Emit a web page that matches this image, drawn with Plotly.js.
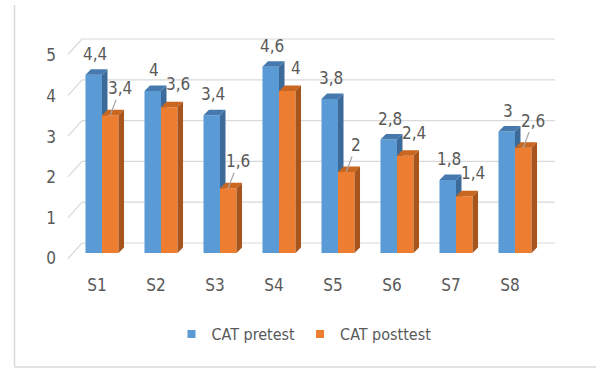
<!DOCTYPE html>
<html><head><meta charset="utf-8">
<script src="https://cdn.plot.ly/plotly-3.0.1.min.js"></script>
<style>html,body{margin:0;padding:0;background:#fff}</style>
</head><body><div id="chart" style="width:596px;height:370px"></div>
<script>
const categories = ['S1','S2','S3','S4','S5','S6','S7','S8'];
const pretest = [4.4, 4, 3.4, 4.6, 3.8, 2.8, 1.8, 3];
const posttest = [3.4, 3.6, 1.6, 4, 2, 2.4, 1.4, 2.6];
const yTicks = [0, 1, 2, 3, 4, 5];
const seriesNames = ['CAT pretest', 'CAT posttest'];
const posttestLeader = [true, false, true, false, true, false, false, true];

// geometry (pixels)
const W = 596, H = 370, PL = 68, PR = 555, PT = 20, PB = 270;
const plotW = PR - PL, plotH = PB - PT;
const catPx = 59, firstCatPx = 102;
const barW = 0.28, depthPx = 5.5, barScale = 40.5;
function yRange(zeroPx, pxPerUnit) { return [-(PB - zeroPx) / pxPerUnit, (zeroPx - PT) / pxPerUnit]; }
const barRange = yRange(253, barScale);
const backRange = yRange(243, 40.8);
const frontRange = yRange(258.5, 40.6);
const xr0 = -(firstCatPx - PL) / catPx;
const xRange = [xr0, xr0 + plotW / catPx];
const pxX = p => (p - PL) / plotW;
const pxY = p => (PB - p) / plotH;
const dxu = depthPx / catPx, dyu = depthPx / barScale;
const xIdx = categories.map((_, i) => i);
const fmt = v => String(v).replace('.', ',');

const FONT = '"Liberation Sans Narrow", "DejaVu Sans Condensed", "Arial Narrow", sans-serif';
const TXT = '#595959', GRID = '#d9d9d9';
const BLUE = '#5b9bd5', BLUE_SIDE = '#3d6b99', BLUE_TOP = '#4679ae';
const ORANGE = '#ed7d31', ORANGE_SIDE = '#a8551d', ORANGE_TOP = '#c9661f';

function faces(values, off) {
  const side = {x: [], y: []}, top = {x: [], y: []};
  values.forEach((v, i) => {
    const l = i + off, r = l + barW;
    side.x.push(r, r + dxu, r + dxu, r, null);
    side.y.push(0, dyu, v + dyu, v, null);
    top.x.push(l, l + dxu, r + dxu, r, null);
    top.y.push(v, v + dyu, v + dyu, v, null);
  });
  return {side, top};
}
function faceTrace(f, color, xa, ya) {
  return {type: 'scatter', x: f.x, y: f.y, mode: 'none', fill: 'toself', fillcolor: color,
    connectgaps: false, xaxis: xa, yaxis: ya, showlegend: false, hoverinfo: 'skip'};
}
const fb = faces(pretest, -barW), fo = faces(posttest, 0);

const traces = [
  {type: 'bar', x: xIdx, y: pretest, width: barW, offset: -barW, marker: {color: BLUE},
   xaxis: 'x', yaxis: 'y', showlegend: false, hoverinfo: 'skip', name: seriesNames[0]},
  faceTrace(fb.side, BLUE_SIDE, 'x', 'y'),
  faceTrace(fb.top, BLUE_TOP, 'x', 'y'),
  {type: 'bar', x: xIdx, y: posttest, width: barW, offset: 0, marker: {color: ORANGE},
   xaxis: 'x2', yaxis: 'y4', showlegend: false, hoverinfo: 'skip', name: seriesNames[1]},
  faceTrace(fo.side, ORANGE_SIDE, 'x2', 'y4'),
  faceTrace(fo.top, ORANGE_TOP, 'x2', 'y4'),
  {type: 'scatter', x: [null], y: [null], mode: 'markers', xaxis: 'x', yaxis: 'y3',
   marker: {symbol: 'square', size: 8, color: BLUE}, name: seriesNames[0]},
  {type: 'scatter', x: [null], y: [null], mode: 'markers', xaxis: 'x', yaxis: 'y3',
   marker: {symbol: 'square', size: 8, color: ORANGE}, name: seriesNames[1]},
  {type: 'scatter', x: [null], y: [null], mode: 'markers', xaxis: 'x', yaxis: 'y2', showlegend: false}
];

const shapes = [];
yTicks.forEach(v => {
  shapes.push({type: 'line', layer: 'below', xref: 'paper', yref: 'y2', x0: pxX(82), x1: pxX(PR), y0: v, y1: v,
    line: {color: GRID, width: 1.2}});
  shapes.push({type: 'line', layer: 'below', xref: 'paper', yref: 'y2', x0: pxX(82), x1: pxX(PL), y0: v, y1: v - 15.5 / 40.8,
    line: {color: GRID, width: 1.2}});
});
// chart-area border
shapes.push({type: 'line', xref: 'paper', yref: 'paper', x0: pxX(14.5), x1: pxX(14.5), y0: pxY(5), y1: pxY(367),
  line: {color: GRID, width: 1.5}});
shapes.push({type: 'line', xref: 'paper', yref: 'paper', x0: pxX(14.5), x1: pxX(W), y0: pxY(367), y1: pxY(367),
  line: {color: GRID, width: 1.5}});

const lblFont = {family: FONT, size: 17, color: TXT};
const annotations = [];
pretest.forEach((v, i) => {
  annotations.push({x: i - barW / 2, y: v, xref: 'x', yref: 'y', text: fmt(v), showarrow: false,
    xshift: 1, yshift: 21, font: lblFont});
});
posttest.forEach((v, i) => {
  if (posttestLeader[i]) {
    annotations.push({x: i + barW / 2, y: v, xref: 'x2', yref: 'y4', text: fmt(v), showarrow: true,
      arrowhead: 0, arrowwidth: 1.2, arrowcolor: '#a6a6a6', ax: 10, ay: -27, standoff: 0, font: lblFont});
  } else {
    annotations.push({x: i + barW / 2, y: v, xref: 'x2', yref: 'y4', text: fmt(v), showarrow: false,
      xshift: 9, yshift: 23, font: lblFont});
  }
});

const layout = {
  width: W, height: H,
  margin: {l: PL, r: W - PR, t: PT, b: H - PB},
  paper_bgcolor: '#ffffff', plot_bgcolor: 'rgba(0,0,0,0)',
  font: {family: FONT, color: TXT},
  showlegend: true,
  legend: {orientation: 'h', x: pxX(304), xanchor: 'center', y: pxY(334), yanchor: 'middle',
    font: {family: FONT, size: 16, color: TXT}, bgcolor: 'rgba(0,0,0,0)', itemwidth: 30},
  xaxis: {range: xRange, tickmode: 'array', tickvals: xIdx, ticktext: categories, showgrid: false,
    zeroline: false, showline: false, ticks: '', ticklabelshift: -5, ticklabelstandoff: 3,
    tickfont: {family: FONT, size: 17, color: TXT}, fixedrange: true},
  xaxis2: {overlaying: 'x', range: xRange, visible: false},
  yaxis: {range: barRange, visible: false, showgrid: false, zeroline: false},
  yaxis2: {overlaying: 'y', range: backRange, visible: false, showgrid: false, zeroline: false},
  yaxis3: {overlaying: 'y', range: frontRange, tickmode: 'array', tickvals: yTicks, showgrid: false,
    zeroline: false, showline: false, ticks: '', anchor: 'free', position: 0, side: 'left',
    ticklabelstandoff: 12, tickfont: {family: FONT, size: 17, color: TXT}},
  yaxis4: {overlaying: 'y', range: barRange, visible: false, showgrid: false, zeroline: false},
  shapes: shapes,
  annotations: annotations
};

Plotly.newPlot('chart', traces, layout, {displayModeBar: false, staticPlot: true});
</script></body></html>
